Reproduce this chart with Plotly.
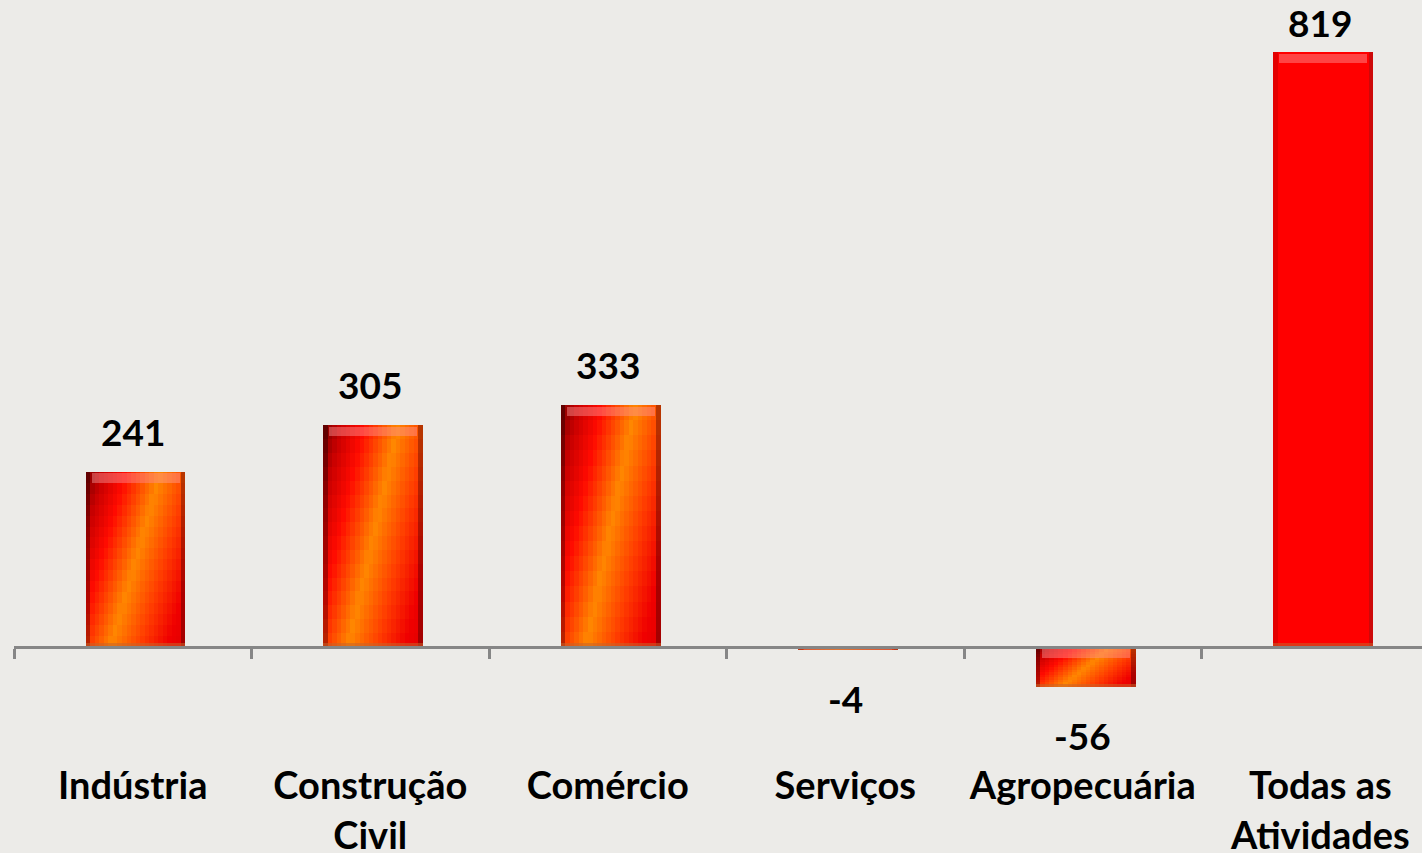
import plotly.graph_objects as go

categories = ["Indústria", "Construção<br>Civil", "Comércio", "Serviços", "Agropecuária", "Todas as<br>Atividades"]
values = [241, 305, 333, -4, -56, 819]
value_labels = ["241", "305", "333", "-4", "-56", "819"]

# ---- style ----
BAR_W = 0.42
BAR_SHIFT = 0.012
N_COLS = 22
N_ROWS = 16
grad_stops = [(0.0, (120, 0, 0)), (0.12, (200, 0, 0)), (0.27, (255, 10, 0)),
              (0.5, (255, 135, 0)), (0.7, (255, 60, 0)), (0.88, (240, 0, 0)), (1.0, (225, 0, 0))]
total_stops = [(0.0, (190, 0, 0)), (0.04, (255, 0, 0)), (0.94, (255, 0, 0)), (1.0, (175, 15, 15))]
y_lo, y_hi = -284, 891


def interp(stops, t):
    t = min(max(t, 0.0), 1.0)
    for (t0, c0), (t1, c1) in zip(stops[:-1], stops[1:]):
        if t0 <= t <= t1:
            f = (t - t0) / (t1 - t0) if t1 > t0 else 0
            return tuple(round(a + (b - a) * f) for a, b in zip(c0, c1))
    return stops[-1][1]


def rgb(c):
    return "rgb(%d,%d,%d)" % c


def edge_shade(c, u):
    # darker thin borders at the left/right edges of the bar
    if u < 0.03 or u > 0.97:
        return tuple(int(x * 0.72) for x in c)
    return c


fig = go.Figure()
sw = BAR_W / N_COLS
last = len(values) - 1
for k in range(N_COLS):
    u = (k + 0.5) / N_COLS
    xs, bases, hs, cols = [], [], [], []
    for i, (c, v) in enumerate(zip(categories, values)):
        lo, hi = min(v, 0), max(v, 0)
        seg = (hi - lo) / N_ROWS
        for j in range(N_ROWS):
            vv = (j + 0.5) / N_ROWS
            if i == last:
                col = interp(total_stops, u)
            else:
                d = u - 0.5 * vv              # diagonal gradient coordinate
                col = edge_shade(interp(grad_stops, (d + 0.5) / 1.5), u)
            xs.append(c)
            bases.append(lo + j * seg)
            hs.append(seg * (1.5 if j < N_ROWS - 1 else 1.0))
            cols.append(rgb(col))
    fig.add_trace(go.Bar(
        x=xs, y=hs, base=bases, offset=-BAR_W / 2 + BAR_SHIFT + k * sw,
        width=sw * (1.6 if k < N_COLS - 1 else 1.0),
        marker=dict(color=cols, line=dict(width=0)),
        hoverinfo="skip", showlegend=False))

# glossy top highlight and bottom band derived from the bar values
hl = [min(13, abs(v)) for v in values]
fig.add_trace(go.Bar(
    x=categories, y=hl, base=[max(v, 0) - h - min(2, abs(v) - h) for v, h in zip(values, hl)],
    width=BAR_W * 0.88, offset=-BAR_W * 0.44 + BAR_SHIFT,
    marker=dict(color="rgba(255,150,150,0.45)", line=dict(width=0)),
    hoverinfo="skip", showlegend=False))
bb = [min(5, abs(v)) for v in values]
fig.add_trace(go.Bar(
    x=categories, y=bb, base=[min(v, 0) for v in values],
    width=BAR_W, offset=-BAR_W / 2 + BAR_SHIFT,
    marker=dict(color="rgba(200,100,40,0.55)", line=dict(width=0)),
    hoverinfo="skip", showlegend=False))

for c, v, lab in zip(categories, values, value_labels):
    if v >= 0:
        shift = 16 if v < 0.88 * y_hi else 5   # keep the tallest label inside the chart
    else:
        shift = -24
    fig.add_annotation(x=c, y=v, text=lab, showarrow=False,
                       yanchor="bottom" if v >= 0 else "top", yshift=shift,
                       font=dict(family="Lato", size=37, color="black", weight=700))

fig.update_layout(
    width=1422, height=853, autosize=False,
    margin=dict(l=14, r=0, t=0, b=0, autoexpand=False),
    paper_bgcolor="#ECEBE8", plot_bgcolor="#ECEBE8",
    barmode="overlay", bargap=0,
    xaxis=dict(range=[-0.5, 5.428], anchor="free", position=(0 - y_lo) / (y_hi - y_lo),
               showline=True, linecolor="#868686", linewidth=3, automargin=False, tickangle=0,
               ticks="outside", tickson="boundaries", ticklen=10, tickwidth=3, tickcolor="#868686",
               ticklabelstandoff=105, showgrid=False, zeroline=False,
               tickfont=dict(family="Lato", size=38, color="black", weight=700)),
    yaxis=dict(range=[y_lo, y_hi], visible=False, showgrid=False, zeroline=False, automargin=False),
)

fig.write_html("out.html", config={"displayModeBar": False},
               post_script="document.body.style.margin='0';document.body.style.overflow='hidden';")
